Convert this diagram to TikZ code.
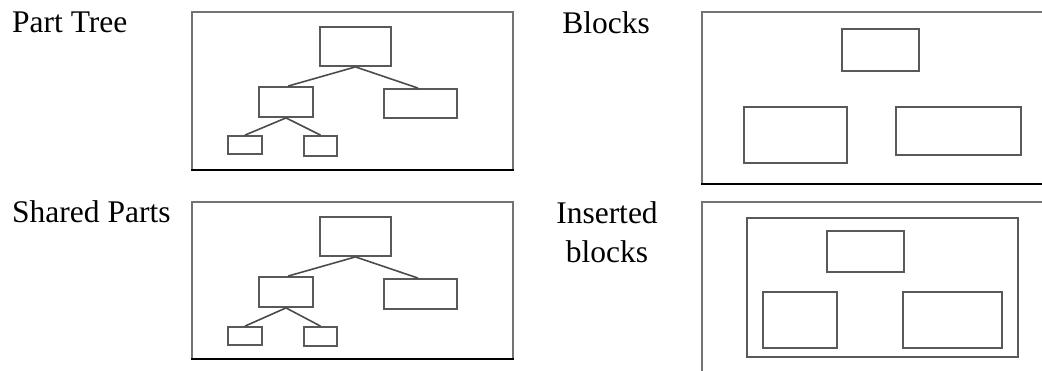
\documentclass[tikz,border=0pt]{standalone}
\usepackage{fontspec}
\setmainfont{Liberation Serif}
\begin{document}
\begin{tikzpicture}[x=1pt,y=-1pt,
  box/.style={draw=black!65,line width=1.8pt,rectangle,inner sep=0pt},
  frame/.style={draw=black!55,line width=2pt},
  framebot/.style={draw=black,line width=2.4pt},
  link/.style={draw=black!70,line width=1.6pt},
  lbl/.style={inner sep=0pt,font=\fontsize{31.5}{39}\selectfont}]
\useasboundingbox (0,0) rectangle (1042,370);
% labels
\node[lbl,anchor=base west] (lpt) at (12,32) {Part Tree};
\node[lbl,anchor=base] (lbk) at (606,33) {Blocks};
\node[lbl,anchor=base west] (lsp) at (12,222) {Shared Parts};
\node[lbl,anchor=base,align=center] (lib) at (607,262) {Inserted\\blocks};
% frame 1
\draw[frame] (192,170) -- (192,12) -- (513,12) -- (513,170);
\draw[framebot] (191,170) -- (514,170);
\node[box,minimum width=71,minimum height=39] (a1) at (355.5,46.5) {};
\node[box,minimum width=54,minimum height=30] (a2) at (286,102) {};
\node[box,minimum width=73,minimum height=29] (a3) at (420.5,103.5) {};
\node[box,minimum width=34,minimum height=18] (a4) at (245,145) {};
\node[box,minimum width=33,minimum height=20] (a5) at (320.5,146) {};
\draw[link] (a1.south) -- ([xshift=2]a2.north);
\draw[link] (a1.south) -- ([xshift=-2.5]a3.north);
\draw[link] (a2.south) -- (a4.north);
\draw[link] (a2.south) -- (a5.north);
% frame 2
\draw[frame] (702,184) -- (702,12) -- (1043,12);
\draw[framebot] (701,184) -- (1043,184);
\node[box,minimum width=77,minimum height=42] (b1) at (880.5,50) {};
\node[box,minimum width=103,minimum height=56] (b2) at (795.5,135) {};
\node[box,minimum width=125,minimum height=48] (b3) at (958.5,131) {};
% frame 3
\draw[frame] (192,359) -- (192,202) -- (513,202) -- (513,359);
\draw[framebot] (191,359) -- (514,359);
\node[box,minimum width=71,minimum height=39] (c1) at (355.5,236.5) {};
\node[box,minimum width=54,minimum height=30] (c2) at (286,292) {};
\node[box,minimum width=73,minimum height=30] (c3) at (420.5,294) {};
\node[box,minimum width=34,minimum height=18] (c4) at (245,336) {};
\node[box,minimum width=33,minimum height=19] (c5) at (320.5,336.5) {};
\draw[link] (c1.south) -- ([xshift=2]c2.north);
\draw[link] (c1.south) -- ([xshift=-2.5]c3.north);
\draw[link] (c2.south) -- (c4.north);
\draw[link] (c2.south) -- (c5.north);
% frame 4
\draw[frame] (702,371) -- (702,202) -- (1043,202);
\node[box,minimum width=271,minimum height=139] (d0) at (882.5,287.5) {};
\node[box,minimum width=77,minimum height=41] (d1) at (865.5,251.5) {};
\node[box,minimum width=74,minimum height=56] (d2) at (800,320) {};
\node[box,minimum width=99,minimum height=56] (d3) at (952.5,320) {};
\end{tikzpicture}
\end{document}
